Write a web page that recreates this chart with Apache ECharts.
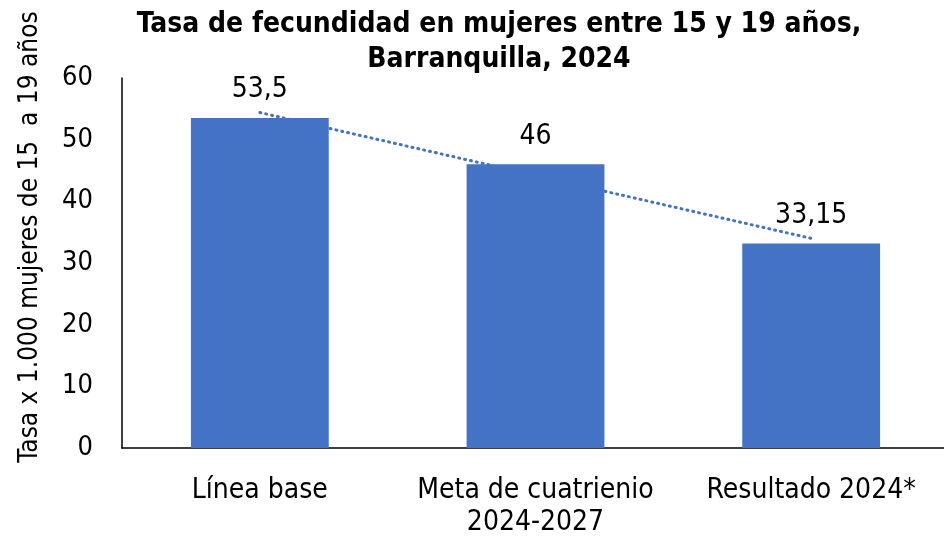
<!DOCTYPE html>
<html>
<head>
<meta charset="utf-8">
<script src="https://cdn.jsdelivr.net/npm/echarts@6/dist/echarts.min.js"></script>
<style>
  html, body { margin: 0; padding: 0; background: #fff; }
  #chart { width: 944px; height: 540px; }
</style>
</head>
<body>
<div id="chart"></div>
<script>
// data
const categories = ["Línea base", "Meta de cuatrienio\n2024-2027", "Resultado 2024*"];
const values = [53.5, 46, 33.15];
// linear trend line as drawn in the reference
const trend = [54.4, 44.2, 34.0];
const yTicks = [0, 10, 20, 30, 40, 50, 60];

const font = "'DejaVu Sans Condensed', 'DejaVu Sans', sans-serif";
const chart = echarts.init(document.getElementById("chart"));

chart.setOption({
    animation: false,
    title: {
        text: "Tasa de fecundidad en mujeres entre 15 y 19 años,\nBarranquilla, 2024",
        left: 494,
        textAlign: "center",
        top: 2,
        textStyle: {
            fontFamily: font,
            fontWeight: "bold",
            fontSize: 28,
            lineHeight: 35,
            color: "#000",
        },
    },
    grid: { left: 122, right: -5, top: 78, bottom: 92, outerBoundsMode: "none" },
    xAxis: {
        type: "category",
        data: categories,
        axisLine: { lineStyle: { color: "#000", width: 1.5 } },
        axisTick: { show: false },
        axisLabel: {
            interval: 0,
            margin: 27,
            fontFamily: font,
            fontSize: 28,
            lineHeight: 32,
            color: "#000",
        },
    },
    yAxis: {
        type: "value",
        min: yTicks[0],
        max: yTicks[yTicks.length - 1],
        interval: 10,
        splitLine: { show: false },
        axisLine: { show: true, lineStyle: { color: "#000", width: 1.5 } },
        axisLabel: {
            margin: 29,
            fontFamily: font,
            fontSize: 27,
            color: "#000",
        },
    },
    graphic: [
        {
            type: "text",
            x: 30,
            y: 237,
            rotation: Math.PI / 2,
            style: {
                text: "Tasa x 1.000 mujeres de 15  a 19 años",
                fontFamily: font,
                fontSize: 26,
                fill: "#000",
                align: "center",
                verticalAlign: "middle",
            },
        },
    ],
    series: [
        {
            type: "line",
            data: trend,
            z: 1,
            symbol: "none",
            lineStyle: { color: "#4472C4", width: 3, type: [1, 5], cap: "round" },
        },
        {
            type: "bar",
            data: values,
            z: 2,
            barWidth: "50%",
            itemStyle: { color: "#4472C4" },
            label: {
                show: true,
                position: "top",
                distance: 14,
                fontFamily: font,
                fontSize: 28,
                color: "#000",
                formatter: (p) => String(p.value).replace(".", ","),
            },
        },
    ],
});
</script>
</body>
</html>
